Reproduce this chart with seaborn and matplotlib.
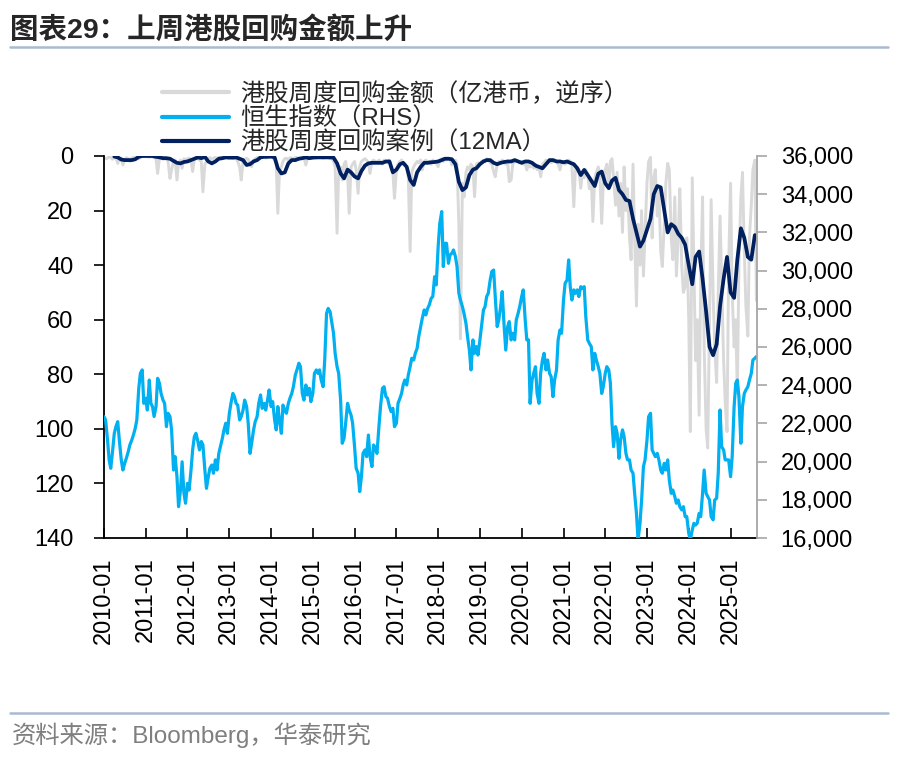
import numpy as np
import pandas as pd
import seaborn as sns
import matplotlib.pyplot as plt
import matplotlib.dates as mdates
from matplotlib.lines import Line2D
from matplotlib.ticker import FuncFormatter

sns.set_theme(style='ticks')
plt.rcParams['font.family'] = ['Liberation Sans', 'Noto Sans CJK SC']

# Hang Seng index, semi-monthly readings (RHS)
hsi_index = [
    22350, 22180, 21130, 20090, 19650, 20430, 21480, 21830, 22090, 21130, 20090, 19560, 19910, 20170, 20520, 20870, 21130, 21390, 21740, 22180, 23840, 24620, 24800, 23050,
    23320, 22700, 24270, 23050, 22880, 22360, 22880, 24360, 24100, 23570, 23220, 23050, 21830, 22530, 22360, 21660, 19560, 20260, 19210, 17640, 18510, 19990, 18340, 17820,
    18860, 18510, 19560, 20610, 21310, 21480, 21050, 20610, 21050, 20870, 19560, 18600, 19210, 19650, 19820, 19390, 20090, 19560, 20430, 20780, 21220, 21660, 22010, 21480,
    22530, 23050, 23570, 23400, 23050, 22960, 22180, 22360, 22700, 23220, 22880, 22010, 20430, 20960, 21660, 22090, 22360, 23050, 23490, 22790, 23050, 22700, 23220, 23750,
    22880, 23140, 22180, 21660, 22880, 22180, 21480, 22960, 22700, 22530, 23050, 23320, 23570, 23920, 24540, 24800, 25150, 24970, 23570, 23220, 24010, 23490, 23840, 23140,
    23570, 24620, 24800, 24620, 24800, 24270, 23920, 25320, 27760, 28020, 27850, 27330, 26720, 25670, 24970, 24620, 23220, 20960, 21220, 22010, 23050, 22700, 22440, 22010,
    20780, 19650, 19390, 18430, 19210, 20430, 20610, 20260, 21390, 20260, 19740, 20870, 20700, 20430, 21830, 22880, 23840, 23920, 23400, 23320, 22880, 22620, 22790, 21830,
    22010, 23050, 23320, 23570, 24010, 24270, 24010, 24540, 24970, 25410, 25320, 25670, 25930, 26540, 27070, 27500, 27940, 27680, 28020, 28200, 28550, 28640, 29680, 29250,
    31250, 32470, 33090, 30210, 31430, 31430, 30380, 30820, 30910, 31080, 30730, 30210, 28810, 28460, 28110, 27760, 27240, 26540, 25840, 24800, 26370, 25670, 26020, 25580,
    26370, 27070, 27940, 28110, 28640, 28810, 29510, 29950, 30030, 28640, 27070, 27420, 28110, 28900, 27070, 25840, 27070, 27330, 26370, 26720, 26370, 27420, 27760, 28110,
    28640, 28990, 27420, 26370, 26370, 23050, 24270, 24620, 24970, 23570, 23050, 24620, 25320, 25670, 24800, 25320, 24620, 24450, 23400, 24270, 24800, 26370, 26890, 26720,
    28460, 29330, 29510, 30560, 29160, 28460, 28990, 28810, 28990, 28640, 29160, 29070, 29160, 27590, 26370, 26190, 26020, 24800, 25670, 25320, 24970, 24620, 23570, 23920,
    24620, 24970, 24800, 24100, 22010, 20780, 21830, 21480, 20170, 21130, 21660, 21310, 20430, 20090, 20090, 19560, 19390, 18340, 17290, 15900, 16770, 17990, 19740, 20090,
    21130, 22350, 22530, 20610, 20430, 20260, 20430, 20090, 19560, 19390, 19910, 19560, 20090, 19040, 18340, 18510, 18170, 17820, 17990, 17640, 17470, 17640, 17120, 17120,
    16250, 15900, 16420, 16770, 16680, 16770, 17290, 17120, 18340, 19560, 18340, 18170, 17990, 17120, 16950, 17990, 18080, 19390, 22700, 20780, 20610, 20090, 20090, 20090,
    19210, 20260, 22880, 24100, 24270, 23400, 20960, 22880, 23570, 23750, 23920, 24270, 24620, 25320, 25410, 25500,
]

# weekly buyback amount (100m HKD), sampled semi-monthly, plotted on reversed left axis
buyback_amount = [
    0.5, 1.0, 0.8, 0.3, 0.5, 1.2, 0.6, 0.4, 2.7, 1.0, 0.8, 3.3, 1.5, 0.6, 1.0, 2.0, 0.8, 0.5, 0.3, 0.6, 1.0, 0.4, 0.2, 0.3,
    0.2, 0.3, 0.5, 0.2, 0.4, 0.6, 1.0, 6.4, 0.8, 0.5, 1.2, 0.6, 1.0, 2.0, 8.2, 5.0, 2.0, 1.5, 8.8, 2.5, 1.5, 4.5, 1.0, 1.5,
    1.0, 0.8, 1.5, 5.7, 1.0, 0.6, 0.8, 1.5, 2.0, 13.1, 3.0, 2.0, 1.0, 0.6, 1.2, 0.8, 0.5, 1.0, 0.6, 0.4, 1.0, 0.6, 0.5, 0.8,
    0.6, 0.4, 0.8, 1.0, 0.6, 2.0, 4.0, 8.8, 2.0, 1.5, 0.8, 1.2, 3.0, 3.9, 1.5, 1.0, 0.6, 0.8, 0.4, 0.6, 0.5, 0.8, 0.4, 0.5,
    0.4, 0.6, 1.5, 3.0, 21.0, 6.0, 4.0, 2.0, 1.0, 0.8, 1.5, 0.6, 0.8, 1.0, 0.5, 0.6, 1.0, 0.8, 0.6, 0.4, 3.3, 0.8, 0.6, 0.5,
    0.5, 0.6, 0.8, 0.5, 0.6, 0.4, 0.8, 0.6, 0.5, 0.6, 1.0, 0.8, 2.0, 4.0, 28.3, 6.0, 4.0, 8.8, 3.0, 2.0, 6.4, 21.0, 4.0, 3.0,
    2.0, 5.0, 13.7, 4.0, 2.0, 1.5, 1.0, 1.5, 2.5, 6.4, 2.0, 1.5, 2.0, 2.5, 1.5, 2.0, 3.0, 1.5, 2.0, 2.5, 1.5, 4.0, 6.0, 15.5,
    5.0, 3.0, 2.0, 1.5, 2.5, 3.0, 4.0, 8.0, 35.0, 6.0, 4.0, 3.0, 2.0, 2.5, 1.5, 5.1, 2.0, 1.5, 2.5, 2.0, 3.0, 1.5, 2.0, 2.5,
    3.9, 1.5, 1.0, 2.0, 1.0, 1.5, 0.8, 1.2, 3.3, 2.0, 1.5, 3.0, 25.0, 67.0, 10.0, 15.0, 6.0, 4.0, 5.0, 3.0, 4.0, 14.9, 3.0, 2.5,
    3.0, 2.0, 1.5, 2.0, 1.0, 1.5, 2.5, 3.0, 5.7, 7.6, 3.0, 2.0, 2.5, 1.5, 2.0, 3.0, 2.5, 9.4, 8.8, 3.0, 2.0, 1.5, 2.0, 2.5,
    2.0, 3.0, 2.5, 5.1, 3.0, 4.0, 3.5, 4.5, 3.0, 5.0, 4.0, 7.6, 3.0, 2.5, 1.5, 2.0, 1.5, 2.5, 2.0, 1.5, 2.0, 3.0, 5.1, 2.5,
    2.0, 3.0, 2.5, 1.5, 2.0, 3.0, 18.6, 5.0, 4.0, 5.1, 11.8, 6.0, 8.0, 5.0, 7.0, 12.0, 9.0, 24.0, 8.0, 6.0, 4.0, 7.0, 24.7, 10.0,
    5, 3, 12, 2, 1, 8, 18, 6, 22, 10, 28, 4, 20, 12, 30, 38, 3, 30, 55, 25, 40, 20, 44, 28,
    10, 2, 0.5, 30, 8, 5, 22, 12, 35, 40.5, 25, 10, 2.7, 5, 30, 38, 15, 44, 30, 12, 40, 50, 48, 30,
    60, 101, 8, 40, 75, 60, 95, 45, 15, 70, 100, 107, 60, 16, 50, 70, 83, 50, 22, 45, 75, 90, 101, 40,
    10, 50, 70, 60, 87, 40, 15, 6, 35, 55, 66, 30, 18, 5, 1.5, 53,
]

# buyback cases, 12-week moving average, monthly readings (left axis, reversed)
buyback_12ma = [
    np.nan, np.nan, np.nan, 0.2, 0.5, 1.3, 1.5, 1.5, 1.5, 1.2, 0.3, 0.0,
    0.0, 0.0, 0.0, 0.3, 0.5, 0.8, 0.8, 1.0, 1.8, 2.5, 2.7, 2.2,
    2.0, 1.5, 1.0, 0.5, 0.8, 0.3, 2.0, 2.7, 2.0, 1.0, 0.8, 0.5,
    0.6, 0.6, 0.5, 1.0, 1.5, 3.3, 3.0, 2.0, 1.5, 0.5, 0.3, 0.3,
    0.2, 0.5, 4.5, 6.4, 6.0, 2.7, 1.5, 1.5, 1.0, 0.8, 0.5, 0.8,
    0.6, 0.5, 0.5, 0.5, 0.5, 0.5, 0.6, 2.7, 6.4, 8.2, 5.0, 6.0,
    7.5, 8.2, 5.5, 3.5, 2.7, 2.5, 2.5, 2.5, 2.5, 2.0, 2.0, 6.0,
    5.0, 3.0, 2.5, 4.0, 8.8, 10.6, 6.0, 4.0, 2.5, 2.5, 2.3, 2.2,
    2.0, 1.5, 1.0, 1.0, 1.2, 3.0, 9.5, 12.5, 11.5, 7.0, 5.0, 4.5,
    3.0, 2.0, 1.5, 1.5, 2.5, 3.0, 2.5, 2.2, 2.0, 2.0, 1.5, 2.0,
    2.5, 2.0, 2.0, 2.5, 3.5, 4.0, 4.5, 3.0, 1.5, 1.5, 2.0, 2.0,
    2.3, 2.0, 2.5, 3.0, 4.5, 7.0, 5.1, 7.0, 9.0, 11.0, 6.5, 5.7,
    10.0, 11.8, 9.0, 8.0, 12.5, 14.0, 16.1, 16.5, 23.0, 28.0, 33.2, 31.0,
    27.0, 23.0, 14.0, 11.0, 11.5, 20.0, 28.0, 25.0, 26.0, 28.5, 30.0, 32.5,
    40.0, 47.0, 37.0, 35.0, 45.0, 57.0, 70.0, 73.0, 69.0, 55.0, 45.0, 37.0,
    50.0, 52.0, 38.0, 26.5, 30.0, 37.0, 38.0, 29.0,
]

legend_labels = ['港股周度回购金额（亿港币，逆序）', '恒生指数（RHS）', '港股周度回购案例（12MA）']
colors = {'amount': '#D9D9D9', 'hsi': '#00B0F0', 'ma': '#002060'}

semi_dates = pd.date_range('2010-01-01', periods=len(hsi_index), freq='SMS')
month_dates = pd.date_range('2010-01-01', periods=len(buyback_12ma), freq='MS')

W, H = 898, 758
fig = plt.figure(figsize=(W / 100, H / 100), dpi=100)
ax = fig.add_axes([104 / W, 1 - 538 / H, (757 - 104) / W, (538 - 156) / H])
ax2 = ax.twinx()

sns.lineplot(x=semi_dates, y=buyback_amount, ax=ax, color=colors['amount'], linewidth=2.1)
sns.lineplot(x=month_dates, y=buyback_12ma, ax=ax, color=colors['ma'], linewidth=2.7)
sns.lineplot(x=semi_dates, y=hsi_index, ax=ax2, color=colors['hsi'], linewidth=2.3)

ax.set_ylim(140, 0)
ax.set_yticks(range(0, 141, 20))
ax2.set_ylim(16000, 36000)
ax2.set_yticks(range(16000, 36001, 2000))
ax2.yaxis.set_major_formatter(FuncFormatter(lambda v, p: f'{v:,.0f}'))
ax.set_xlim(pd.Timestamp('2010-01-01'), pd.Timestamp('2025-08-20'))
ax.xaxis.set_major_locator(mdates.YearLocator())
ax.xaxis.set_major_formatter(mdates.DateFormatter('%Y-%m'))
for a in (ax, ax2):
    a.set_xlabel('')
    a.set_ylabel('')

# spines and ticks
ax.spines['top'].set_visible(False)
ax.spines['right'].set_visible(False)
ax2.spines['top'].set_visible(False)
ax2.spines['left'].set_visible(False)
ax2.spines['bottom'].set_visible(False)
for s in ('left', 'bottom'):
    ax.spines[s].set_color('black')
    ax.spines[s].set_linewidth(1.3)
ax2.spines['right'].set_color('#A6A6A6')
ax2.spines['right'].set_linewidth(1.3)

ax.tick_params(axis='x', direction='in', length=7, width=1.2, color='black',
               labelsize=17, labelrotation=90, pad=14, labelcolor='black')
ax.tick_params(axis='y', direction='out', length=7, width=1.2, color='black',
               labelsize=17, pad=15, labelcolor='black')
ax2.tick_params(axis='y', direction='out', length=7, width=1.2, color='#A6A6A6',
                labelsize=17, pad=10, labelcolor='black')

# legend above the plot
handles = [Line2D([], [], color=colors['amount'], lw=3),
           Line2D([], [], color=colors['hsi'], lw=3),
           Line2D([], [], color=colors['ma'], lw=3)]
fig.legend(handles, legend_labels, loc='upper left', bbox_to_anchor=(162 / W, 1 - 82 / H),
           frameon=False, fontsize=17.5, handlelength=2.75, handletextpad=0.45,
           labelspacing=0.06, borderpad=0, borderaxespad=0)

# title, rules and source
fig.text(10 / W, 1 - 30 / H, '图表29：上周港股回购金额上升', fontsize=20.5, fontweight='bold',
         ha='left', va='center')
fig.add_artist(Line2D([10 / W, 888 / W], [1 - 47 / H] * 2, color='#A9BBD0', lw=1.8))
fig.add_artist(Line2D([10 / W, 888 / W], [1 - 713 / H] * 2, color='#A9BBD0', lw=1.8))
fig.text(12 / W, 1 - 735 / H, '资料来源：Bloomberg，华泰研究', fontsize=17.5, color='#7F7F7F',
         ha='left', va='center')

fig.savefig('out.png', dpi=100)
